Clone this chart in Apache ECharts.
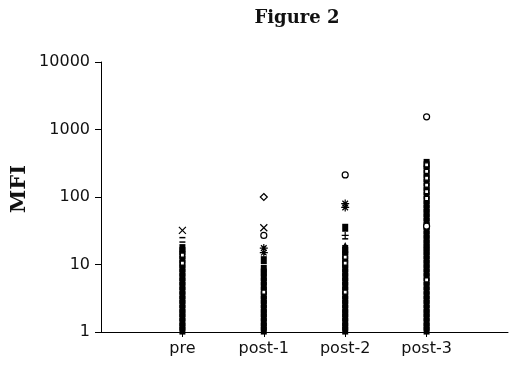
<!DOCTYPE html>
<html>
<head>
<meta charset="utf-8">
<script src="https://cdn.jsdelivr.net/npm/echarts@6/dist/echarts.min.js"></script>
<style>
  html, body { margin: 0; padding: 0; background: #fff; }
  #chart { width: 520px; height: 365px; }
</style>
</head>
<body>
<div id="chart"></div>
<script>
// groups on the x axis
let groups = ['pre', 'post-1', 'post-2', 'post-3'];
let yTicks = [1, 10, 100, 1000, 10000];

// dense black column of filled squares
let filledSquares = [
  ['pre', 1.05], ['pre', 1.2], ['pre', 1.4], ['pre', 1.65], ['pre', 1.9], ['pre', 2.2], ['pre', 2.6],
  ['pre', 3], ['pre', 3.5], ['pre', 4.1], ['pre', 4.8], ['pre', 5.6], ['pre', 6.5], ['pre', 7.6],
  ['pre', 8.8], ['pre', 10.2], ['pre', 11.8], ['pre', 13.7], ['pre', 15.8], ['pre', 17.5],
  ['post-1', 1.05], ['post-1', 1.2], ['post-1', 1.4], ['post-1', 1.65], ['post-1', 1.9], ['post-1', 2.2],
  ['post-1', 2.6], ['post-1', 3], ['post-1', 3.5], ['post-1', 4.1], ['post-1', 4.8], ['post-1', 5.6],
  ['post-1', 6.5], ['post-1', 7.6], ['post-1', 8.6], ['post-1', 11.6],
  ['post-2', 1.05], ['post-2', 1.2], ['post-2', 1.4], ['post-2', 1.65], ['post-2', 1.9], ['post-2', 2.2],
  ['post-2', 2.6], ['post-2', 3], ['post-2', 3.5], ['post-2', 4.1], ['post-2', 4.8], ['post-2', 5.6],
  ['post-2', 6.5], ['post-2', 7.6], ['post-2', 8.8], ['post-2', 10.2], ['post-2', 11.8], ['post-2', 13.7],
  ['post-2', 15.8], ['post-2', 17], ['post-2', 35],
  ['post-3', 1.05], ['post-3', 1.2], ['post-3', 1.4], ['post-3', 1.65], ['post-3', 1.9], ['post-3', 2.2],
  ['post-3', 2.6], ['post-3', 3], ['post-3', 3.5], ['post-3', 4.1], ['post-3', 4.8], ['post-3', 5.6],
  ['post-3', 6.5], ['post-3', 7.6], ['post-3', 8.8], ['post-3', 10.2], ['post-3', 11.8], ['post-3', 13.7],
  ['post-3', 15.8], ['post-3', 18], ['post-3', 20.5], ['post-3', 23.8], ['post-3', 27.6], ['post-3', 32],
  ['post-3', 37], ['post-3', 43], ['post-3', 50], ['post-3', 58], ['post-3', 67], ['post-3', 78],
  ['post-3', 90], ['post-3', 105], ['post-3', 122], ['post-3', 141], ['post-3', 164], ['post-3', 190],
  ['post-3', 220], ['post-3', 255], ['post-3', 295], ['post-3', 320]
];
let openSquares = [
  ['pre', 13.8], ['pre', 10.5],
  ['post-1', 3.9],
  ['post-2', 12.9], ['post-2', 10.5], ['post-2', 3.9],
  ['post-3', 300], ['post-3', 240], ['post-3', 190], ['post-3', 150], ['post-3', 120], ['post-3', 95],
  ['post-3', 5.9]
];
let openCircles = [['post-1', 27], ['post-2', 212], ['post-3', 1540], ['post-3', 37]];
let diamonds = [['post-1', 100]];
let crosses = [['pre', 32], ['post-1', 35]];
let asterisks = [['post-1', 17.5], ['post-1', 15], ['post-2', 80], ['post-2', 70]];
let triangles = [['post-2', 19.5]];
let pluses = [['post-2', 27]];
let dashes = [['pre', 25], ['pre', 21.5], ['post-2', 24]];

let chart = echarts.init(document.getElementById('chart'));

let crossPath = 'path://M0,0L10,10M10,0L0,10';
let starPath = 'path://M5,0L5,10M0,5L10,5M1.5,1.5L8.5,8.5M8.5,1.5L1.5,8.5';
let plusPath = 'path://M5,0L5,10M0,5L10,5';

function pts(name, data, symbol, size, fill, border) {
  return {
    name: name,
    type: 'scatter',
    data: data,
    symbol: symbol,
    symbolSize: size,
    silent: true,
    itemStyle: {
      color: fill,
      borderColor: border || '#000',
      borderWidth: border ? 1.2 : 0,
      opacity: 1
    }
  };
}

let option = {
  animation: false,
  grid: { left: 101, right: 12, top: 62, bottom: 33 },
  graphic: [
    {
      type: 'text', x: 297, y: 18,
      style: {
        text: 'Figure 2', font: 'bold 18px "DejaVu Serif"', fill: '#111',
        textAlign: 'center', textVerticalAlign: 'middle', align: 'center', verticalAlign: 'middle'
      }
    },
    {
      type: 'text', x: 20, y: 189, rotation: Math.PI / 2,
      style: {
        text: 'MFI', font: 'bold 21px "DejaVu Serif"', fill: '#111',
        textAlign: 'center', textVerticalAlign: 'middle', align: 'center', verticalAlign: 'middle'
      }
    }
  ],
  xAxis: {
    type: 'category',
    data: [''].concat(groups, ['']),
    boundaryGap: false,
    axisLine: { lineStyle: { color: '#000', width: 1 } },
    axisTick: {
      length: 5,
      interval: function (i, v) { return v !== ''; },
      lineStyle: { color: '#000' }
    },
    axisLabel: {
      interval: 0, margin: 9, color: '#111',
      fontFamily: 'DejaVu Sans', fontSize: 16
    },
    splitLine: { show: false }
  },
  yAxis: {
    type: 'log',
    logBase: 10,
    min: yTicks[0],
    max: yTicks[yTicks.length - 1],
    axisLine: { show: true, lineStyle: { color: '#000', width: 1 } },
    axisTick: { show: true, length: 6, lineStyle: { color: '#000' } },
    axisLabel: {
      margin: 11, color: '#111', fontFamily: 'DejaVu Sans', fontSize: 16,
      formatter: function (v) { return String(Math.round(v)); }
    },
    splitLine: { show: false },
    minorTick: { show: false }
  },
  series: [
    pts('filled', filledSquares, 'rect', [6, 8], '#000'),
    pts('dash', dashes, 'rect', [6, 1.5], '#000'),
    pts('open square', openSquares, 'rect', 4, '#fff', '#000'),
    pts('open circle', openCircles, 'circle', 6, '#fff', '#000'),
    pts('diamond', diamonds, 'diamond', 7, '#fff', '#000'),
    pts('cross', crosses, crossPath, 7, 'none', '#000'),
    pts('asterisk', asterisks, starPath, 8, 'none', '#000'),
    pts('triangle', triangles, 'triangle', 6, '#000'),
    pts('plus', pluses, plusPath, 7, 'none', '#000')
  ]
};

chart.setOption(option);
</script>
</body>
</html>
